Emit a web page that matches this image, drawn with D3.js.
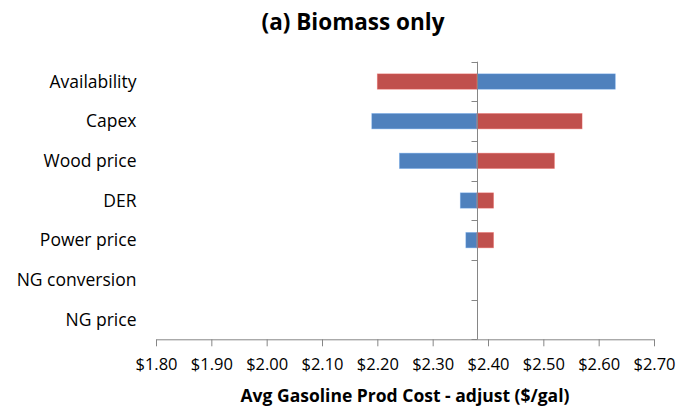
<!DOCTYPE html>
<html>
<head>
<meta charset="utf-8">
<script src="https://cdn.jsdelivr.net/npm/d3@7"></script>
<style>
  html, body { margin: 0; padding: 0; background: #fff; }
  svg { display: block; }
  text { font-family: "Open Sans", "DejaVu Sans", sans-serif; fill: #000; }
</style>
</head>
<body>
<svg id="chart" width="690" height="406"></svg>
<script>
// Sensitivity of average gasoline production cost (biomass only case)
const categories = ["Availability", "Capex", "Wood price", "DER", "Power price", "NG conversion", "NG price"];
const baseCost = 2.38;
// cost at each end of the sensitivity range, by bar colour
const blueCase = [2.63, 2.19, 2.24, 2.35, 2.36, 2.38, 2.38];
const redCase  = [2.20, 2.57, 2.52, 2.41, 2.41, 2.38, 2.38];
const xTicks = [1.8, 1.9, 2.0, 2.1, 2.2, 2.3, 2.4, 2.5, 2.6, 2.7];

const title = "(a) Biomass only";
const xTitle = "Avg Gasoline Prod Cost - adjust ($/gal)";

const svg = d3.select("#chart");
const axisColor = "#868686";

const x = d3.scaleLinear().domain([1.8, 2.7]).range([156, 654]);
const y = d3.scaleBand().domain(categories).range([61.7, 339.3])
  .paddingInner(0.614).paddingOuter(0.307);

const series = [
  { name: "blue", values: blueCase, color: "#4F81BD" },
  { name: "red", values: redCase, color: "#C0504D" }
];

// bars, each running from the base cost to its case value
series.forEach(s => {
  svg.append("g").selectAll("rect")
    .data(categories.map((c, i) => ({ c, v: s.values[i] })))
    .join("rect")
    .attr("x", d => Math.min(x(d.v), x(baseCost)))
    .attr("width", d => Math.abs(x(d.v) - x(baseCost)))
    .attr("y", d => y(d.c))
    .attr("height", y.bandwidth())
    .attr("fill", s.color)
    .attr("stroke", d3.color(s.color).brighter(0.6))
    .attr("stroke-opacity", 0.5)
    .attr("stroke-width", d => Math.abs(d.v - baseCost) > 0 ? 0.8 : 0);
});

// horizontal value axis
const xAxis = svg.append("g")
  .attr("transform", `translate(0,${y.range()[1]})`)
  .call(d3.axisBottom(x).tickValues(xTicks).tickFormat(d3.format("$.2f"))
    .tickSize(7).tickSizeOuter(0).tickPadding(12));
xAxis.select(".domain").attr("stroke", axisColor);
xAxis.selectAll(".tick line").attr("stroke", axisColor);
xAxis.selectAll(".tick text")
  .style("font-family", "'Open Sans', sans-serif")
  .style("font-size", "16.5px").attr("fill", "#000");

// vertical category axis crossing at the base cost
const step = y.step();
const gap = (step - y.bandwidth()) / 2;
const bounds = categories.map(c => y(c) - gap).concat([y.range()[1]]);
const xc = Math.round(x(baseCost)) + 0.5;
const yAxis = svg.append("g");
yAxis.append("line")
  .attr("x1", xc).attr("x2", xc)
  .attr("y1", bounds[0]).attr("y2", y.range()[1])
  .attr("stroke", axisColor);
yAxis.selectAll("line.tick")
  .data(bounds)
  .join("line")
  .attr("class", "tick")
  .attr("x1", xc - 6).attr("x2", xc)
  .attr("y1", d => Math.round(d) + 0.5).attr("y2", d => Math.round(d) + 0.5)
  .attr("stroke", axisColor);

// category labels
svg.append("g").selectAll("text")
  .data(categories)
  .join("text")
  .attr("x", 136.5)
  .attr("y", d => y(d) + y.bandwidth() / 2)
  .attr("dy", "0.36em")
  .attr("text-anchor", "end")
  .style("font-size", "17.5px")
  .text(d => d);

// titles
svg.append("text")
  .attr("x", 353).attr("y", 30)
  .attr("text-anchor", "middle")
  .style("font-size", "22.5px").style("font-weight", "bold")
  .text(title);

svg.append("text")
  .attr("x", 405).attr("y", 402)
  .attr("text-anchor", "middle")
  .style("font-size", "17.5px").style("font-weight", "bold")
  .text(xTitle);
</script>
</body>
</html>
